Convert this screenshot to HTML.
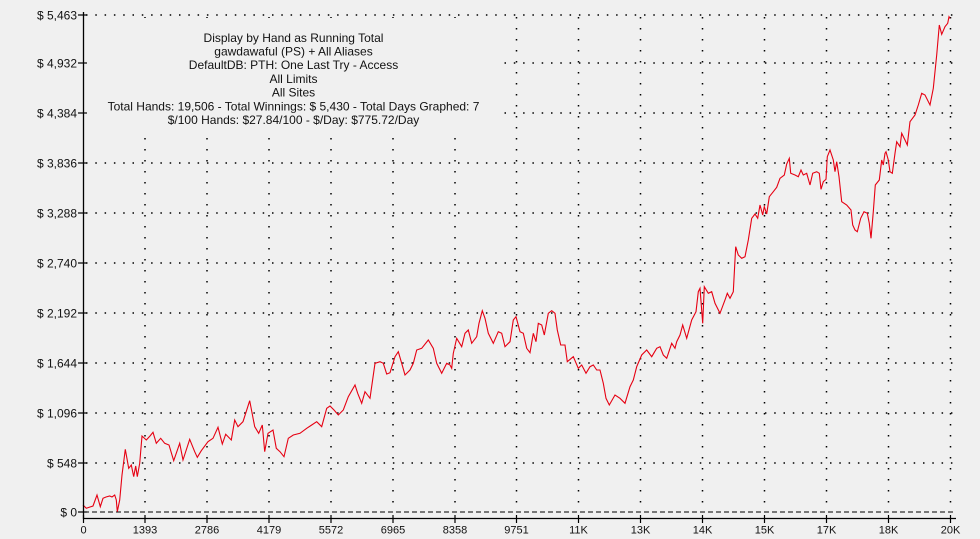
<!DOCTYPE html>
<html>
<head>
<meta charset="utf-8">
<style>
html,body{margin:0;padding:0;background:#f0f0f0;}
svg{display:block;}
text{font-family:"Liberation Sans",Arial,sans-serif;fill:#111;}
</style>
</head>
<body>
<svg width="980" height="539" viewBox="0 0 980 539" xmlns="http://www.w3.org/2000/svg">
<rect x="0" y="0" width="980" height="539" fill="#f0f0f0"/>
<!-- horizontal dotted gridlines -->
<g stroke="#000" stroke-width="1.5" stroke-dasharray="1.5,7.8" fill="none">
<line x1="86" y1="15" x2="956" y2="15"/>
<line x1="86" y1="63" x2="956" y2="63"/>
<line x1="86" y1="113" x2="956" y2="113"/>
<line x1="86" y1="163" x2="956" y2="163"/>
<line x1="86" y1="213" x2="956" y2="213"/>
<line x1="86" y1="263" x2="956" y2="263"/>
<line x1="86" y1="313" x2="956" y2="313"/>
<line x1="86" y1="363" x2="956" y2="363"/>
<line x1="86" y1="413" x2="956" y2="413"/>
<line x1="86" y1="463" x2="956" y2="463"/>
</g>
<!-- vertical dotted gridlines -->
<g stroke="#000" stroke-width="1.5" stroke-dasharray="1.5,9.5" fill="none">
<line x1="145" y1="17" x2="145" y2="512"/>
<line x1="207" y1="17" x2="207" y2="512"/>
<line x1="269" y1="17" x2="269" y2="512"/>
<line x1="331" y1="17" x2="331" y2="512"/>
<line x1="393" y1="17" x2="393" y2="512"/>
<line x1="455" y1="17" x2="455" y2="512"/>
<line x1="516.5" y1="17" x2="516.5" y2="512"/>
<line x1="578.5" y1="17" x2="578.5" y2="512"/>
<line x1="640.5" y1="17" x2="640.5" y2="512"/>
<line x1="702.5" y1="17" x2="702.5" y2="512"/>
<line x1="764.5" y1="17" x2="764.5" y2="512"/>
<line x1="826.5" y1="17" x2="826.5" y2="512"/>
<line x1="888.5" y1="17" x2="888.5" y2="512"/>
<line x1="950.5" y1="17" x2="950.5" y2="512"/>
</g>
<!-- zero dashed line -->
<line x1="84" y1="512" x2="956" y2="512" stroke="#000" stroke-width="1" stroke-dasharray="5,3"/>
<!-- info box background -->
<rect x="85" y="18" width="415" height="119" fill="#f0f0f0"/>
<g font-size="12" text-anchor="middle">
<text x="293.5" y="42">Display by Hand as Running Total</text>
<text x="293.5" y="55.5">gawdawaful (PS) + All Aliases</text>
<text x="293.5" y="69.2">DefaultDB: PTH: One Last Try - Access</text>
<text x="293.5" y="82.9">All Limits</text>
<text x="293.5" y="96.6">All Sites</text>
<text x="293.5" y="110.3">Total Hands: 19,506 - Total Winnings: $ 5,430 - Total Days Graphed: 7</text>
<text x="293.5" y="124">$/100 Hands: $27.84/100 - $/Day: $775.72/Day</text>
</g>
<!-- series -->
<polyline fill="none" stroke="#e60012" stroke-width="1.1" stroke-linejoin="miter" points="
83,505 86.3,508.3 90,507 93,506 97,495 100.3,506.7 103,498.3 106,497 109.7,496 112,497 114.7,495 116.3,500 117.3,511.7 119.7,500 122,475 125.3,449.3 128.7,468.3 131.3,465 133.7,476.7 135.7,466 137.3,476.7 139.7,463.3 142,436 146.3,440 150,436 153,432.3 156.3,443.3 160.7,438.3 164.7,443.3 169,445 173.7,460.7 179.7,443.3 183,460 189.7,439.3 194.7,451.7 197.3,457.3 201.3,450.7 208,441.7 213,438.3 218,427.3 222.3,444 225.7,434.3 231.3,440 234.7,420 238,426.7 243,421.7 249.7,400.7 254.7,426.7 258.7,433.3 262.3,425 264.7,451.7 268,433.3 273,430 276.3,448.3 280,451.7 284,456.7 288.3,438.3 293.3,435 300,433.3 306.7,428.3 311.7,425 316.7,421.7 321.7,426.7 326.7,408.3 330,406 334,410 338.3,415 343.3,410 348.3,396.7 355,385 357.7,393.3 361.7,403.3 365,391.7 370,398.3 375,363.3 380,361.7 383.3,363.3 386.7,374 390,372.7 395,356.7 398.3,351.7 401.7,363.3 405,375 410,370 413.3,363.3 416.7,350 421.7,348.3 428.3,340 433.3,348.3 436.7,363.3 441.7,373.3 446.7,363.3 450,365 451.7,368.3 453.3,353.3 456.7,338.3 461.7,346.7 465,333.3 468.3,330 471.7,343.3 476.7,336.7 479,323.3 482.3,310.7 485,318.3 488.3,333.3 493.3,343.3 498.3,331.7 501.7,333.3 505,346.7 510,341.7 513.3,320 516,316.7 520,331.7 523.3,333.3 526.7,348.3 530,352.7 533.3,333.3 536,341.7 538.3,323.3 541.7,325 544.3,335 548.3,313.3 551.7,310.7 555,313.3 557.3,330 560.7,345 565,345 567.3,361.7 573.3,356.7 578.3,368.3 581.7,365 586,373.3 590,366.7 593.3,365 596.7,370 600,370 603.3,383.3 606,398.3 609.3,405 615,395 620,398.3 625,403.3 630,386.7 633.3,380 636.7,366.7 641.7,355 646.7,350 651.7,356.7 656.7,348.3 660,346.7 663.3,355 666.7,358.3 671.7,343.3 675,348.3 676.7,341.7 680,335 682.7,325 686.7,338.3 691.7,320 696,311.7 698.3,291.7 700,288.3 702.7,323.3 704.3,286.7 708.3,293.3 711.7,291.7 715,303.3 720,313.3 725,300 727.3,293.3 730,298.3 733.3,291.7 735.7,246.7 738.3,255 741.7,258.3 745,256.7 748.3,240 751.7,218.3 755,214 757.7,218.3 760,205 762.7,215 764.3,206.7 766.7,214 769.3,196.7 773.3,191.7 776.7,187.3 780,178.3 784.3,175 786.7,164 789.3,158.3 790.7,173.3 795,175 798.3,176.7 801,170 803.3,175 806.7,173.3 810,185 812.7,173.3 816.7,171.7 819.3,173.3 821,189.3 823.3,181.7 826,179.3 827.3,156.7 830,150 833.3,160 835,171.7 836.7,161.7 839,176.7 841.7,201.7 846.7,205 851,210 852.7,225 855,230 857.3,231.7 860.7,218.3 864,211.7 867.3,213.3 869.3,223.3 871,238.3 873.3,211.7 875.3,185 879.3,180 881.7,160 883.3,165 885,153.3 886,151.7 888.3,160 890,171.7 892.3,173.3 895,153.3 896.7,141.7 900,146.7 901.7,133.3 905,140 907.3,145 910,121.7 915,115 918.3,105 921.7,93.3 925,95 930,105 933.3,88.3 936.7,55 939.3,25 941.7,34.3 945,26.7 947.7,23.3 949,16.7 950,18.3"/>
<!-- axes -->
<g stroke="#000" stroke-width="1.3" fill="none">
<line x1="83.5" y1="12" x2="83.5" y2="519"/>
<line x1="83" y1="518.5" x2="956" y2="518.5"/>
</g>
<!-- y ticks -->
<g stroke="#000" stroke-width="1.2">
<line x1="78" y1="15" x2="87" y2="15"/>
<line x1="78" y1="63" x2="87" y2="63"/>
<line x1="78" y1="113" x2="87" y2="113"/>
<line x1="78" y1="163" x2="87" y2="163"/>
<line x1="78" y1="213" x2="87" y2="213"/>
<line x1="78" y1="263" x2="87" y2="263"/>
<line x1="78" y1="313" x2="87" y2="313"/>
<line x1="78" y1="363" x2="87" y2="363"/>
<line x1="78" y1="413" x2="87" y2="413"/>
<line x1="78" y1="463" x2="87" y2="463"/>
<line x1="78" y1="512" x2="87" y2="512"/>
</g>
<!-- x ticks -->
<g stroke="#000" stroke-width="1.2">
<line x1="83.5" y1="515" x2="83.5" y2="523"/>
<line x1="145" y1="515" x2="145" y2="523"/>
<line x1="207" y1="515" x2="207" y2="523"/>
<line x1="269" y1="515" x2="269" y2="523"/>
<line x1="331" y1="515" x2="331" y2="523"/>
<line x1="393" y1="515" x2="393" y2="523"/>
<line x1="455" y1="515" x2="455" y2="523"/>
<line x1="516.5" y1="515" x2="516.5" y2="523"/>
<line x1="578.5" y1="515" x2="578.5" y2="523"/>
<line x1="640.5" y1="515" x2="640.5" y2="523"/>
<line x1="702.5" y1="515" x2="702.5" y2="523"/>
<line x1="764.5" y1="515" x2="764.5" y2="523"/>
<line x1="826.5" y1="515" x2="826.5" y2="523"/>
<line x1="888.5" y1="515" x2="888.5" y2="523"/>
<line x1="950.5" y1="515" x2="950.5" y2="523"/>
</g>
<!-- y labels -->
<g font-size="12" text-anchor="end">
<text x="77" y="19.3">$ 5,463</text>
<text x="77" y="67.3">$ 4,932</text>
<text x="77" y="117.3">$ 4,384</text>
<text x="77" y="167.3">$ 3,836</text>
<text x="77" y="217.3">$ 3,288</text>
<text x="77" y="267.3">$ 2,740</text>
<text x="77" y="317.3">$ 2,192</text>
<text x="77" y="367.3">$ 1,644</text>
<text x="77" y="417.3">$ 1,096</text>
<text x="77" y="467.3">$ 548</text>
<text x="77" y="516.3">$ 0</text>
</g>
<!-- x labels -->
<g font-size="11" text-anchor="middle">
<text x="83.5" y="533.5">0</text>
<text x="145" y="533.5">1393</text>
<text x="207" y="533.5">2786</text>
<text x="269" y="533.5">4179</text>
<text x="331" y="533.5">5572</text>
<text x="393" y="533.5">6965</text>
<text x="455" y="533.5">8358</text>
<text x="516.5" y="533.5">9751</text>
<text x="578.5" y="533.5">11K</text>
<text x="640.5" y="533.5">13K</text>
<text x="702.5" y="533.5">14K</text>
<text x="764.5" y="533.5">15K</text>
<text x="826.5" y="533.5">17K</text>
<text x="888.5" y="533.5">18K</text>
<text x="950.5" y="533.5">20K</text>
</g>
</svg>
</body>
</html>
